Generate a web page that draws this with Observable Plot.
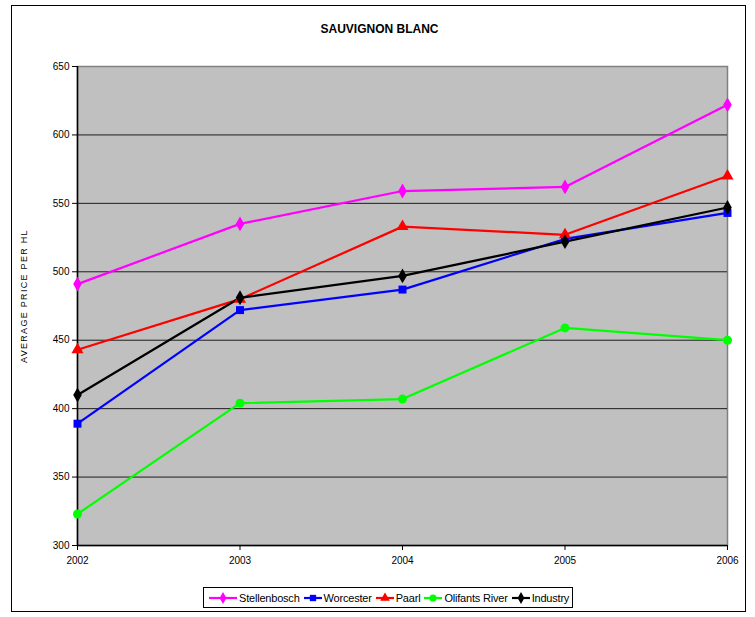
<!DOCTYPE html>
<html>
<head>
<meta charset="utf-8">
<script src="https://cdn.jsdelivr.net/npm/d3@7"></script>
<script src="https://cdn.jsdelivr.net/npm/@observablehq/plot@0.6"></script>
<style>
  html, body { margin: 0; padding: 0; background: #fff; }
  #wrap { position: relative; width: 755px; height: 617px; font-family: "Liberation Sans", Arial, sans-serif; }
  #border { position: absolute; left: 11px; top: 5px; width: 735px; height: 607px; border: 1.5px solid #000; box-sizing: border-box; pointer-events: none; }
  #title { position: absolute; left: 11px; width: 737px; top: 22px; text-align: center; font-weight: bold; font-size: 12px; color: #000; }
  #ylabel { position: absolute; left: 24px; top: 296px; transform: translate(-50%, -50%) rotate(-90deg); font-size: 9px; letter-spacing: 1.3px; white-space: nowrap; color: #000; }
  #legend { position: absolute; left: 203px; top: 587px; height: 21px; border: 1px solid #000; box-sizing: border-box; display: flex; align-items: center; padding: 0 3px 0 4px; font-size: 11px; letter-spacing: -0.2px; background: #fff; }
  #legend .item { display: flex; align-items: center; margin-right: 3px; }
  #legend .item:last-child { margin-right: 0; }
  #legend svg { display: block; margin-right: 1px; }
  #plot { position: absolute; left: 0; top: 0; }
</style>
</head>
<body>
<div id="wrap">
  <div id="plot"></div>
  <div id="border"></div>
  <div id="title">SAUVIGNON BLANC</div>
  <div id="ylabel">AVERAGE PRICE PER HL</div>
  <div id="legend"></div>
</div>
<script>
const years = [2002, 2003, 2004, 2005, 2006];
const seriesNames = ["Stellenbosch", "Worcester", "Paarl", "Olifants River", "Industry"];
const seriesColors = ["#FF00FF", "#0000FF", "#FF0000", "#00FF00", "#000000"];
const seriesSymbols = ["diamond", "square", "triangle", "circle", "diamond"];
const stellenbosch = [491, 535, 559, 562, 622];
const worcester = [389, 472, 487, 524, 543];
const paarl = [443, 480, 533, 527, 570];
const olifantsRiver = [323, 404, 407, 459, 450];
const industry = [410, 481, 497, 522, 547];
const yTicks = [300, 350, 400, 450, 500, 550, 600, 650];

const seriesValues = [stellenbosch, worcester, paarl, olifantsRiver, industry];
const data = [];
seriesNames.forEach((name, i) => {
  years.forEach((yr, j) => data.push({series: name, year: yr, value: seriesValues[i][j]}));
});

const font = "Liberation Sans, Arial, sans-serif";
const chart = Plot.plot({
  width: 755,
  height: 617,
  marginLeft: 77,
  marginRight: 28,
  marginTop: 66,
  marginBottom: 72,
  style: { fontFamily: font, fontSize: "10px", background: "transparent", color: "#000" },
  x: { domain: [2002, 2006], label: null },
  y: { domain: [300, 650], label: null },
  color: { domain: seriesNames, range: seriesColors },
  symbol: { domain: seriesNames, range: seriesSymbols },
  marks: [
    Plot.frame({ fill: "#C0C0C0", stroke: "#808080", strokeWidth: 1.5 }),
    Plot.gridY(yTicks.slice(1, -1), { stroke: "#000", strokeOpacity: 0.85, strokeWidth: 1 }),
    Plot.ruleX([2002], { stroke: "#000", strokeWidth: 1.5 }),
    Plot.ruleY([300], { stroke: "#000", strokeWidth: 1.5 }),
    Plot.axisY(yTicks, { tickSize: 5, tickPadding: 3, fontSize: 10, label: null, stroke: "#000" }),
    Plot.axisX(years, { tickSize: 5, tickPadding: 6, tickFormat: "d", fontSize: 10, label: null, stroke: "#000" }),
    Plot.line(data, { x: "year", y: "value", z: "series", stroke: "series", strokeWidth: 2.2 }),
    Plot.dot(data, { x: "year", y: "value", fill: "series", symbol: "series", r: 4.5, stroke: "none" })
  ]
});
document.getElementById("plot").appendChild(chart);

// Legend
const legend = d3.select("#legend");
seriesNames.forEach((name, i) => {
  const item = legend.append("div").attr("class", "item");
  const w = i === 0 ? 30 : 20;
  const svg = item.append("svg").attr("width", w).attr("height", 12);
  svg.append("line").attr("x1", 1).attr("x2", w - 1).attr("y1", 6).attr("y2", 6)
    .attr("stroke", seriesColors[i]).attr("stroke-width", 2.2);
  const symMap = { diamond: d3.symbolDiamond, square: d3.symbolSquare, triangle: d3.symbolTriangle, circle: d3.symbolCircle };
  svg.append("path").attr("transform", `translate(${w / 2},6)`)
    .attr("d", d3.symbol(symMap[seriesSymbols[i]], 40)())
    .attr("fill", seriesColors[i]);
  item.append("span").text(name);
});
</script>
</body>
</html>
